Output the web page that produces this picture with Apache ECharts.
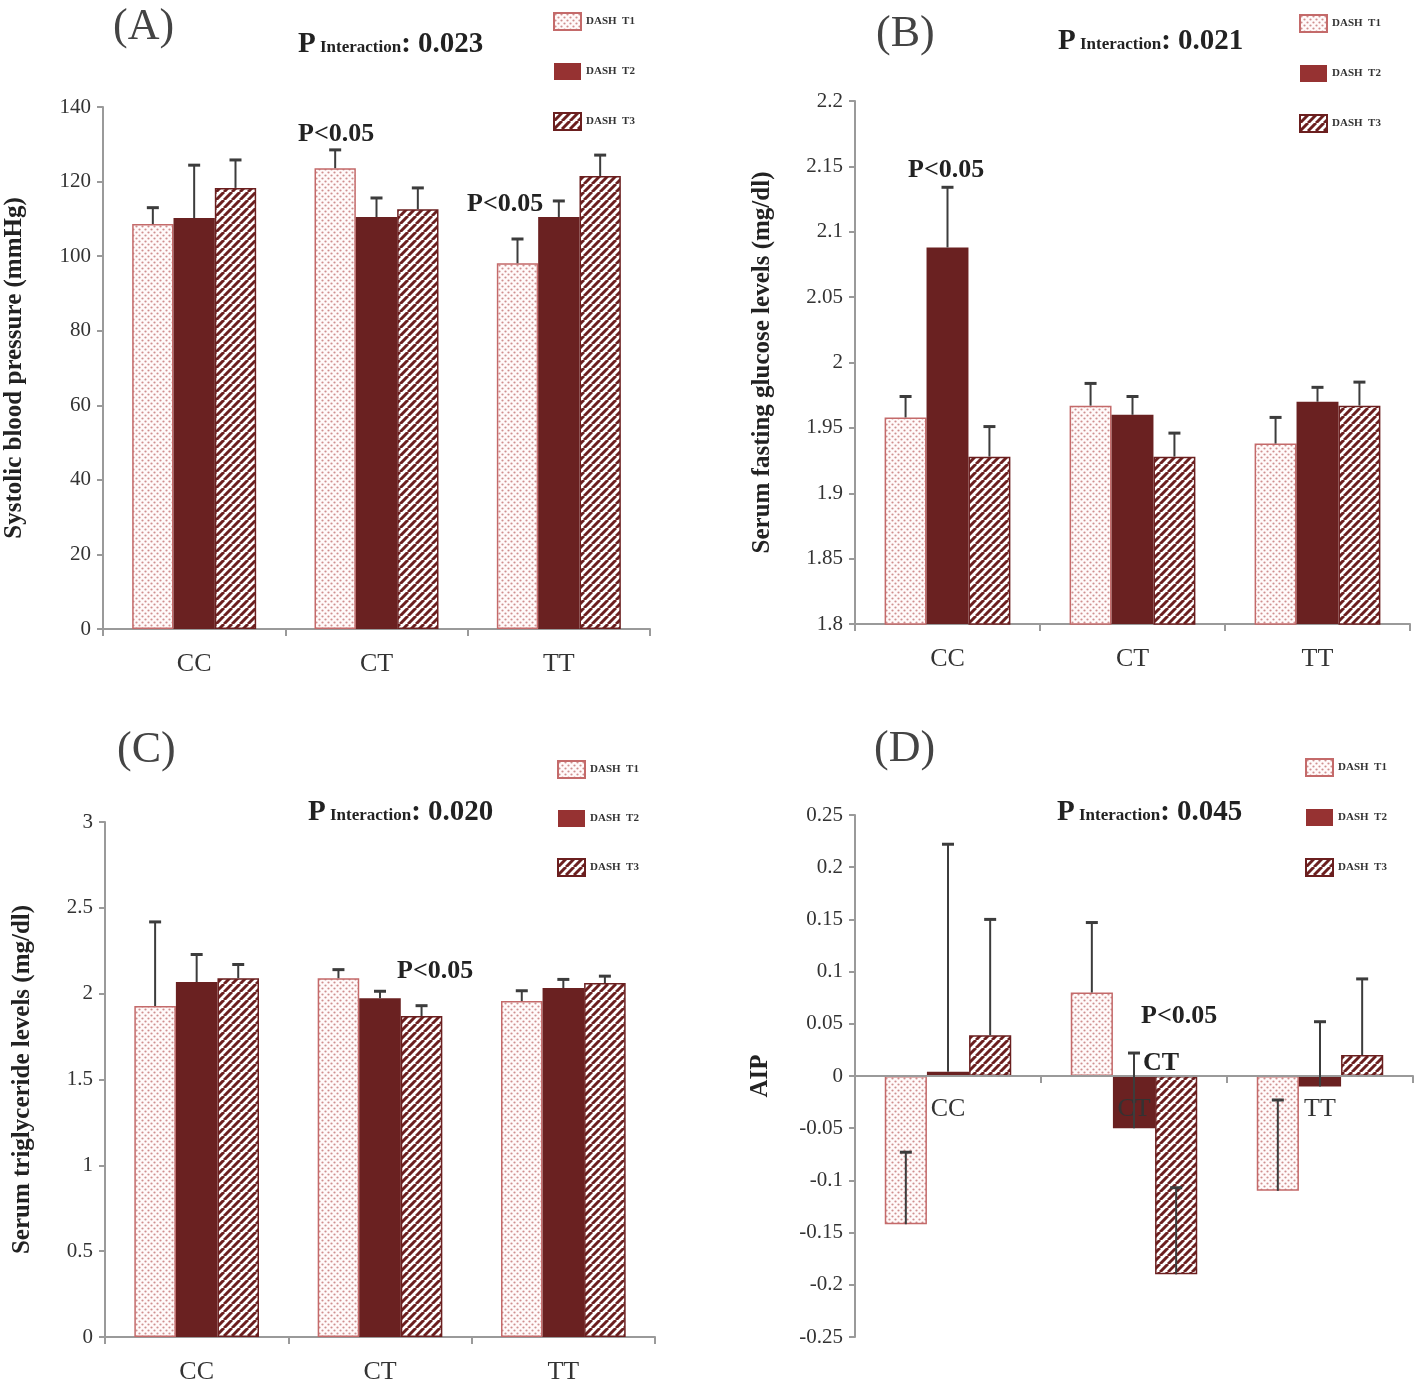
<!DOCTYPE html>
<html><head><meta charset="utf-8">
<script src="https://cdn.jsdelivr.net/npm/echarts@6/dist/echarts.min.js"></script>
<style>html,body{margin:0;padding:0;background:#fff}#c{width:1418px;height:1390px}</style>
</head><body><div id="c"></div>
<script>
// ---------- DATA ----------
const categories = ['CC', 'CT', 'TT'];
const seriesNames = ['DASH  T1', 'DASH  T2', 'DASH  T3'];

// (A) Systolic blood pressure (mmHg): means and SE
const sbpT1 = [108.6, 123.6, 98.1];
const sbpT2 = [110.2, 110.5, 110.5];
const sbpT3 = [118.3, 112.6, 121.5];
const sbpT1Se = [4.4, 4.9, 6.5];
const sbpT2Se = [14.2, 5.1, 4.3];
const sbpT3Se = [7.5, 5.7, 5.6];

// (B) Serum fasting glucose (mg/dl)
const fbgT1 = [1.958, 1.967, 1.938];
const fbgT2 = [2.088, 1.960, 1.970];
const fbgT3 = [1.928, 1.928, 1.967];
const fbgT1Se = [0.016, 0.017, 0.020];
const fbgT2Se = [0.046, 0.014, 0.011];
const fbgT3Se = [0.023, 0.018, 0.018];

// (C) Serum triglyceride (mg/dl)
const tgT1 = [1.928, 2.09, 1.957];
const tgT2 = [2.068, 1.974, 2.033];
const tgT3 = [2.09, 1.87, 2.062];
const tgT1Se = [0.49, 0.05, 0.06];
const tgT2Se = [0.16, 0.04, 0.05];
const tgT3Se = [0.08, 0.06, 0.04];

// (D) AIP
const aipT1 = [-0.142, 0.080, -0.110];
const aipT2 = [0.004, -0.050, -0.010];
const aipT3 = [0.039, -0.190, 0.020];
const aipT1Se = [0.069, 0.067, 0.087];
const aipT2Se = [0.218, 0.072, 0.062];
const aipT3Se = [0.111, 0.083, 0.073];

const panelTitles = ['(A)', '(B)', '(C)', '(D)'];
const pInteraction = ['0.023', '0.021', '0.020', '0.045'];
const yNames = ['Systolic blood pressure (mmHg)', 'Serum fasting glucose levels (mg/dl)', 'Serum triglyceride levels (mg/dl)', 'AIP'];
const yMin = [0, 1.8, 0, -0.25];
const yMax = [140, 2.2, 3, 0.25];
const yInterval = [20, 0.05, 0.5, 0.05];

// ---------- PATTERNS ----------
function dotPattern() {
  const c = document.createElement('canvas'); c.width = 6; c.height = 6;
  const x = c.getContext('2d');
  x.fillStyle = '#fffafa'; x.fillRect(0, 0, 6, 6);
  x.fillStyle = '#cf8f8f';
  x.beginPath(); x.arc(1.5, 1.5, 1.1, 0, Math.PI * 2); x.fill();
  x.beginPath(); x.arc(4.5, 4.5, 1.1, 0, Math.PI * 2); x.fill();
  return c;
}
function hatchPattern() {
  const s = 8;
  const c = document.createElement('canvas'); c.width = s; c.height = s;
  const x = c.getContext('2d');
  x.fillStyle = '#ffffff'; x.fillRect(0, 0, s, s);
  x.strokeStyle = '#6b1f1f'; x.lineWidth = 3;
  for (const o of [-s, 0, s]) { x.beginPath(); x.moveTo(o, s); x.lineTo(o + s, 0); x.stroke(); }
  return c;
}
const dotFill = { image: dotPattern(), repeat: 'repeat' };
const hatchFill = { image: hatchPattern(), repeat: 'repeat' };
const barStyles = [
  { color: dotFill, borderColor: '#c46a6a', borderWidth: 1.5 },
  { color: '#6a2121', borderColor: '#6a2121', borderWidth: 0 },
  { color: hatchFill, borderColor: '#6b1f1f', borderWidth: 1.5 }
];

// ---------- LAYOUT ----------
const grids = [
  { left: 103, top: 107, width: 547, height: 522 },
  { left: 855, top: 101, width: 555, height: 523 },
  { left: 105, top: 822, width: 550, height: 515 },
  { left: 855, top: 815, width: 558, height: 522 }
];
const legendPos = [[548, 7], [1294, 9], [552, 755], [1300, 753]];
const legendGaps = [32, 32, 31, 32];
const titlePos = [[113, 5], [876, 12], [117, 728], [874, 727]];
const pPos = [[298, 30], [1058, 27], [308, 798], [1057, 798]];
const nameGaps = [76, 80, 70, 82];

const panels = [
  [[sbpT1, sbpT2, sbpT3], [sbpT1Se, sbpT2Se, sbpT3Se]],
  [[fbgT1, fbgT2, fbgT3], [fbgT1Se, fbgT2Se, fbgT3Se]],
  [[tgT1, tgT2, tgT3], [tgT1Se, tgT2Se, tgT3Se]],
  [[aipT1, aipT2, aipT3], [aipT1Se, aipT2Se, aipT3Se]]
];

const serif = "'Liberation Serif','DejaVu Serif',serif";
const axisGray = '#9a9a9a';
const catGap = 0.32;

const xAxes = [], yAxes = [], series = [], legends = [], titles = [];
panels.forEach((p, g) => {
  // place the category axis where value 0 sits (panel D has negative values)
  const zeroOffset = yMin[g] < 0 ? -grids[g].height * (0 - yMin[g]) / (yMax[g] - yMin[g]) : 0;
  xAxes.push({
    type: 'category', gridIndex: g, data: categories, position: 'bottom', offset: zeroOffset,
    z: yMin[g] < 0 ? 5 : 0,
    axisLine: { onZero: false, lineStyle: { color: axisGray, width: 2 } },
    axisTick: { show: true, length: 7, lineStyle: { color: axisGray, width: 2 } },
    axisLabel: { color: '#333', fontFamily: serif, fontSize: 26, margin: g === 3 ? 20 : 22 }
  });
  yAxes.push({
    type: 'value', gridIndex: g, min: yMin[g], max: yMax[g], interval: yInterval[g],
    name: yNames[g], nameLocation: 'middle', nameRotate: 90, nameGap: nameGaps[g],
    nameTextStyle: { fontFamily: serif, fontWeight: 'bold', fontSize: 25, color: '#222' },
    axisLine: { show: true, lineStyle: { color: axisGray, width: 2 } },
    axisTick: { show: true, length: 6, lineStyle: { color: axisGray, width: 2 } },
    axisLabel: { color: '#333', fontFamily: serif, fontSize: 21, margin: 12 },
    splitLine: { show: false }
  });
  const [vals, ses] = p;
  vals.forEach((v, k) => {
    series.push({
      type: 'bar', name: seriesNames[k], xAxisIndex: g, yAxisIndex: g,
      data: v, barGap: '0%', barCategoryGap: (catGap * 100) + '%',
      itemStyle: barStyles[k], emphasis: { disabled: true }
    });
  });
  const errData = [];
  vals.forEach((v, k) => v.forEach((val, i) => errData.push([i, k, val, val + ses[k][i]])));
  series.push({
    type: 'custom', xAxisIndex: g, yAxisIndex: g, z: 10, silent: true,
    data: errData,
    renderItem: function (params, api) {
      const i = api.value(0), k = api.value(1);
      const catW = api.size([1, 0])[0];
      const bw = catW * (1 - catGap) / 3;
      const p0 = api.coord([i, api.value(2)]);
      const p1 = api.coord([i, api.value(3)]);
      const x = p0[0] + (k - 1) * bw;
      const cap = 6;
      return { type: 'group', children: [
        { type: 'line', shape: { x1: x, y1: p0[1], x2: x, y2: p1[1] }, style: { stroke: '#3c3c3c', lineWidth: 2 } },
        { type: 'line', shape: { x1: x - cap, y1: p1[1], x2: x + cap, y2: p1[1] }, style: { stroke: '#3c3c3c', lineWidth: 3 } }
      ]};
    }
  });
  legends.push({
    orient: 'vertical', left: legendPos[g][0], top: legendPos[g][1],
    itemWidth: 27, itemHeight: 17, itemGap: legendGaps[g], selectedMode: false, icon: 'rect',
    data: [
      { name: seriesNames[0], icon: 'rect' },
      { name: seriesNames[1], icon: 'rect', itemStyle: { color: '#963232', borderWidth: 0 } },
      { name: seriesNames[2], icon: 'rect' }
    ],
    textStyle: { fontFamily: serif, fontSize: 11, fontWeight: 'bold', color: '#333', padding: [6, 0, 0, 0] }
  });
  titles.push({
    text: panelTitles[g], left: titlePos[g][0], top: titlePos[g][1], padding: 0,
    textStyle: { fontFamily: serif, fontSize: 44, fontWeight: 'normal', color: '#444' }
  });
  titles.push({
    text: '{p|P}{s| Interaction}{p|: ' + pInteraction[g] + '}',
    left: pPos[g][0], top: pPos[g][1], padding: 0,
    textStyle: { rich: {
      p: { fontFamily: serif, fontSize: 29, fontWeight: 'bold', color: '#222' },
      s: { fontFamily: serif, fontSize: 17, fontWeight: 'bold', color: '#222', padding: [7, 0, 0, 0] }
    } }
  });
});

const annot = [
  ['P<0.05', 298, 121], ['P<0.05', 467, 191], ['P<0.05', 908, 157],
  ['P<0.05', 397, 958], ['P<0.05', 1141, 1003], ['CT', 1143, 1050]
];
annot.forEach(a => titles.push({
  text: a[0], left: a[1], top: a[2], padding: 0,
  textStyle: { fontFamily: serif, fontSize: 26, fontWeight: 'bold', color: '#222' }
}));

const chart = echarts.init(document.getElementById('c'), null, { renderer: 'canvas' });
chart.setOption({
  animation: false,
  backgroundColor: '#fff',
  title: titles,
  legend: legends,
  grid: grids,
  xAxis: xAxes,
  yAxis: yAxes,
  series: series
});
</script></body></html>
